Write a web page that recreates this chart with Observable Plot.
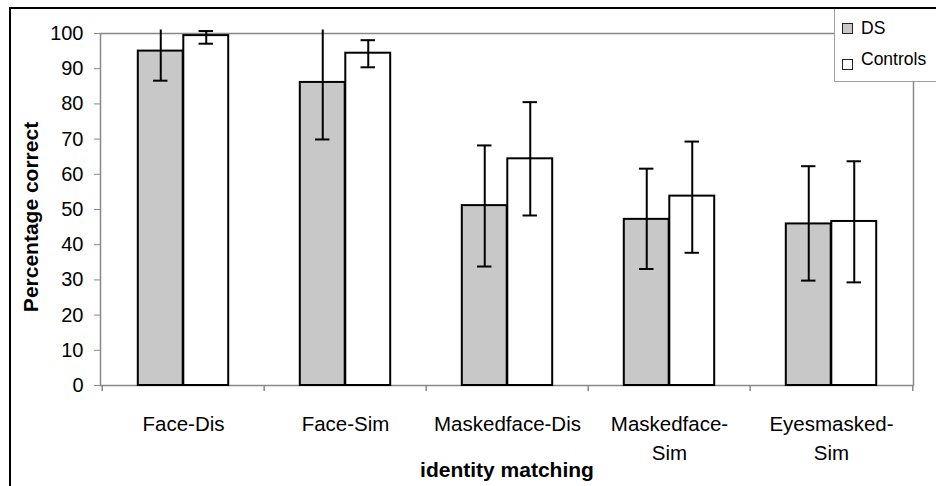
<!DOCTYPE html>
<html><head><meta charset="utf-8">
<script src="https://cdn.jsdelivr.net/npm/d3@7"></script>
<script src="https://cdn.jsdelivr.net/npm/@observablehq/plot@0.6"></script>
<style>
html,body{margin:0;padding:0;background:#fff;overflow:hidden;}
#wrap{position:relative;width:936px;height:486px;overflow:hidden;font-family:"Liberation Sans",Arial,sans-serif;background:#fff;}
#chart{position:absolute;left:0;top:0;}
#btop{position:absolute;left:9px;top:7px;width:927px;height:2px;background:#000;}
#bleft{position:absolute;left:9px;top:7px;width:2px;height:479px;background:#000;}
#legend{position:absolute;left:834px;top:8px;width:110px;height:74px;background:#fff;border:1px solid #a0a0a0;border-right:none;box-sizing:border-box;}
.sw{position:absolute;left:7px;width:11px;height:11px;border:1.5px solid #222;box-sizing:border-box;}
.lt{position:absolute;left:26px;font-size:17.5px;line-height:1;color:#000;white-space:nowrap;}
svg [aria-label="y-axis tick"]{stroke:#888;}
svg .tick line{stroke:#888;}
</style>
</head><body>
<div id="wrap">
  <div id="chart"></div>
  <div id="legend"></div>
  <div id="btop"></div>
  <div id="bleft"></div>
</div>
<script>
const categories = ["Face-Dis", "Face-Sim", "Maskedface-Dis", "Maskedface-Sim", "Eyesmasked-Sim"];
const categoryLabels = ["Face-Dis", "Face-Sim", "Maskedface-Dis", "Maskedface-\nSim", "Eyesmasked-\nSim"];
const seriesNames = ["DS", "Controls"];
const seriesColors = ["#c8c8c8", "#ffffff"];
const dsMean = [95, 86.1, 51.1, 47.2, 45.9];
const dsLower = [86.6, 69.9, 33.8, 33.1, 29.8];
const dsUpper = [101, 101, 68.2, 61.6, 62.3];
const ctrlMean = [99.4, 94.4, 64.4, 53.8, 46.6];
const ctrlLower = [97.1, 90.4, 48.3, 37.7, 29.3];
const ctrlUpper = [100.7, 98.1, 80.5, 69.3, 63.7];
const yTicks = [0, 10, 20, 30, 40, 50, 60, 70, 80, 90, 100];
const xTitle = "identity matching";
const yTitle = "Percentage correct";

const ds = categories.map((c, i) => ({category: c, label: categoryLabels[i], mean: dsMean[i], lower: dsLower[i], upper: dsUpper[i]}));
const ctrl = categories.map((c, i) => ({category: c, label: categoryLabels[i], mean: ctrlMean[i], lower: ctrlLower[i], upper: ctrlUpper[i]}));

const W = 936, H = 486, mL = 100, mR = 23, mT = 33, mB = 101;
const step = (W - mL - mR) / categories.length;
const barW = 45.5, capW = 15;
const off = barW / 2;
const capInset = (step - capW) / 2;
const innerH = H - mT - mB;

const barStyle = {stroke: "#000", strokeWidth: 2};
const errStyle = {stroke: "#000", strokeWidth: 2};

const chart = Plot.plot({
  width: W, height: H,
  marginLeft: mL, marginRight: mR, marginTop: mT, marginBottom: mB,
  style: {fontFamily: "'Liberation Sans', Arial, sans-serif", fontSize: "20px", color: "#000", background: "transparent"},
  x: {domain: categories, padding: 0, axis: null},
  y: {domain: [0, 100], ticks: yTicks, tickSize: 6, tickPadding: 11, label: null},
  marks: [
    Plot.frame({stroke: "#888", strokeWidth: 1.5}),
    Plot.ruleX(categories, {x: d => d, dx: -step / 2, stroke: "#888", strokeWidth: 1.5, insetTop: innerH, insetBottom: -6}),
    Plot.ruleX([categories[categories.length - 1]], {x: d => d, dx: step / 2, stroke: "#888", strokeWidth: 1.5, insetTop: innerH, insetBottom: -6}),
    Plot.barY(ds, {x: "category", y: "mean", fill: seriesColors[0], ...barStyle, insetLeft: step / 2 - barW, insetRight: step / 2}),
    Plot.barY(ctrl, {x: "category", y: "mean", fill: seriesColors[1], ...barStyle, insetLeft: step / 2, insetRight: step / 2 - barW}),
    Plot.ruleX(ds, {x: "category", y1: "lower", y2: "upper", dx: -off, ...errStyle}),
    Plot.ruleX(ctrl, {x: "category", y1: "lower", y2: "upper", dx: off, ...errStyle}),
    Plot.tickY(ds, {x: "category", y: "lower", dx: -off, insetLeft: capInset, insetRight: capInset, ...errStyle}),
    Plot.tickY(ds.filter(d => d.upper < 101), {x: "category", y: "upper", dx: -off, insetLeft: capInset, insetRight: capInset, ...errStyle}),
    Plot.tickY(ctrl, {x: "category", y: "lower", dx: off, insetLeft: capInset, insetRight: capInset, ...errStyle}),
    Plot.tickY(ctrl.filter(d => d.upper < 101), {x: "category", y: "upper", dx: off, insetLeft: capInset, insetRight: capInset, ...errStyle}),
    Plot.text(ds, {x: "category", text: "label", frameAnchor: "bottom", lineAnchor: "top", dy: 24, lineHeight: 1.45, fontSize: 20.5, fill: "#000"}),
    Plot.text([xTitle], {text: d => d, frameAnchor: "bottom", lineAnchor: "top", textAnchor: "middle", dy: 77, fontSize: 21, fontWeight: "bold", fill: "#000"}),
    Plot.text([yTitle], {text: d => d, frameAnchor: "left", rotate: -90, textAnchor: "middle", lineAnchor: "middle", dx: -69, dy: 7.5, fontSize: 21, fontWeight: "bold", fill: "#000"})
  ]
});
document.getElementById("chart").appendChild(chart);

const legend = document.getElementById("legend");
const swTops = [14, 50], txtTops = [11, 42];
seriesNames.forEach((name, i) => {
  const sw = document.createElement("div");
  sw.className = "sw"; sw.style.top = swTops[i] + "px"; sw.style.background = seriesColors[i];
  legend.appendChild(sw);
  const t = document.createElement("div");
  t.className = "lt"; t.style.top = txtTops[i] + "px"; t.textContent = name;
  legend.appendChild(t);
});
</script>
</body></html>
